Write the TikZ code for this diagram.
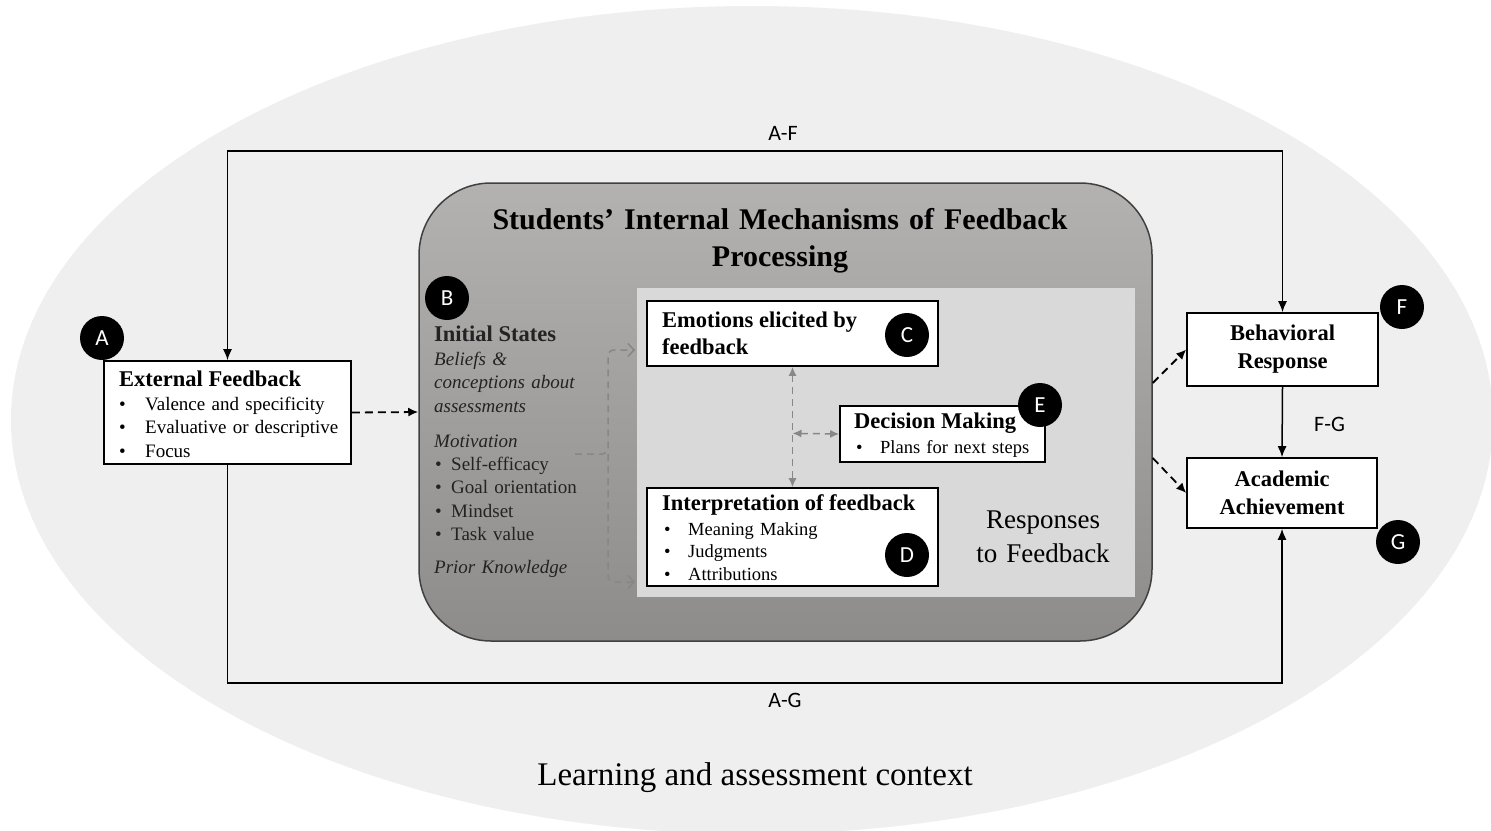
\documentclass[tikz,border=0pt]{standalone}
\usepackage{fontspec}
\setmainfont{Liberation Serif}
\newfontfamily\calib{Carlito}
\usetikzlibrary{arrows.meta,calc}
\definecolor{ellgray}{RGB}{239,239,239}
\definecolor{mechtop}{RGB}{180,177,177}
\definecolor{mechmid}{RGB}{167,164,164}
\definecolor{mechbot}{RGB}{142,139,139}
\definecolor{innergray}{RGB}{217,217,217}
\definecolor{dashgray}{RGB}{135,135,135}
\definecolor{txtdark}{RGB}{35,35,35}
\newcommand{\hdfont}{\bfseries\fontsize{22.5}{28}\selectfont}
\newcommand{\blfont}{\fontsize{19}{23.5}\selectfont}
\newcommand{\bitem}[2]{\makebox[#1][l]{\textbullet}#2}
\begin{document}
\begin{tikzpicture}[x=1pt,y=-1pt,
  box/.style={draw=black, line width=1.6pt, fill=white, rectangle, inner sep=0pt},
  letter/.style={circle, fill=black, text=white, minimum size=44pt, inner sep=0pt, font=\calib\fontsize{23}{23}\selectfont},
  txt/.style={inner sep=0pt, anchor=base west, text=black},
  hd/.style={txt, font=\hdfont},
  lst/.style={txt, text width=330pt, align=left, font=\blfont},
  lbl/.style={inner sep=0pt, anchor=base, font=\calib\fontsize{22}{22}\selectfont},
  conn/.style={draw=black, line width=1.5pt},
  tip/.style={-{Latex[length=11pt,width=9pt]}},
  dconn/.style={conn, line width=1.8pt, dash pattern=on 8pt off 5pt, -{Latex[length=10pt,width=9pt]}},
  gconn/.style={draw=dashgray, line width=1.5pt, dash pattern=on 7pt off 5pt},
  gtip/.style={{Latex[length=9pt,width=8pt]}-{Latex[length=9pt,width=8pt]}},
  barb/.style={-{Straight Barb[length=6pt,width=13pt]}}
]
\useasboundingbox (0,0) rectangle (1491,830);
% context ellipse
\fill[ellgray] (752,420) ellipse [x radius=741pt, y radius=414pt];
\node[lbl, anchor=base, font=\fontsize{33}{33}\selectfont] (ctx) at (755,785) {Learning and assessment context};

% big rounded box
\node[rectangle, rounded corners=72pt, minimum width=733pt, minimum height=458pt, inner sep=0pt,
      top color=mechtop, middle color=mechmid, bottom color=mechbot, draw=black!75, line width=1.5pt] (mech) at (785.5,412) {};
\node[txt, anchor=base, text width=700pt, align=center, font=\bfseries\fontsize{30}{37}\selectfont] (title) at (780,229)
  {Students' Internal Mechanisms of Feedback\\Processing};

% inner responses panel
\node[rectangle, fill=innergray, minimum width=498pt, minimum height=309pt, inner sep=0pt] (resp) at (886,442.5) {};
\node[txt, anchor=base, text width=200pt, align=center, font=\fontsize{27}{34}\selectfont] (respT) at (1043,528)
  {Responses\\to Feedback};

% initial states
\node[letter] (B) at (447,298) {B};
\node[hd, text=txtdark] (initH) at (434,341) {Initial States};
\node[lst, text=txtdark, font=\blfont\itshape] (initI) at (434,365) {Beliefs \&\\conceptions about\\assessments};
\node[lst, text=txtdark, font=\blfont\itshape] (motH) at (434,447) {Motivation};
\node[lst, text=txtdark] (motL) at (435,470) {\bitem{16pt}{Self-efficacy}\\\bitem{16pt}{Goal orientation}\\\bitem{16pt}{Mindset}\\\bitem{16pt}{Task value}};
\node[lst, text=txtdark, font=\blfont\itshape] (prior) at (434,573) {Prior Knowledge};

% gray bracket
\coordinate (mot) at (575,454);
\coordinate (brk) at (608,454);
\coordinate (tipTop) at (635,350);
\coordinate (tipBot) at (635,582);
\draw[gconn, barb, rounded corners=6pt] (mot) -- (brk) -- (brk |- tipTop) -- (tipTop);
\draw[gconn, barb, rounded corners=6pt] (brk) -- (brk |- tipBot) -- (tipBot);

% external feedback
\node[box, minimum width=247pt, minimum height=103pt] (ext) at (227.5,412.5) {};
\node[hd] (extH) at (119,386) {External Feedback};
\node[lst] (extL) at (119,410) {\bitem{26pt}{Valence and specificity}\\\bitem{26pt}{Evaluative or descriptive}\\\bitem{26pt}{Focus}};
\node[letter] (A) at (102,338) {A};

% C
\node[box, minimum width=291pt, minimum height=65pt] (C) at (792.5,333.5) {};
\node[hd] (CH) at (662,327) {Emotions elicited by};
\node[hd] (CH2) at (662,354) {feedback};
\node[letter] (Cl) at (907,335) {C};

% D
\node[box, minimum width=291pt, minimum height=98pt] (D) at (792.5,537) {};
\node[hd] (DH) at (662,510) {Interpretation of feedback};
\node[lst, font=\fontsize{18.5}{22.5}\selectfont] (DL) at (664,535) {\bitem{24pt}{Meaning Making}\\\bitem{24pt}{Judgments}\\\bitem{24pt}{Attributions}};
\node[letter] (Dl) at (907,555) {D};

% E
\node[box, minimum width=205pt, minimum height=56pt] (E) at (942.5,434) {};
\node[hd] (EH) at (854,428) {Decision Making};
\node[lst, font=\fontsize{18.5}{22.5}\selectfont] (EL) at (856,453) {\bitem{24pt}{Plans for next steps}};
\node[letter] (El) at (1040,405) {E};

% gray connectors C-D-E
\draw[gconn, gtip] (C.south) -- (D.north);
\coordinate (cdmid) at ($(C.south)!0.553!(D.north)$);
\draw[gconn, gtip] (cdmid) -- (E.west);

% right boxes
\node[box, minimum width=191pt, minimum height=73pt, align=center, font=\hdfont] (F) at (1282.5,349.5) {Behavioral\\Response};
\node[letter] (Fl) at (1402,307) {F};
\node[box, minimum width=190pt, minimum height=70pt, align=center, font=\hdfont] (G) at (1282,493) {Academic\\Achievement};
\node[letter] (Gl) at (1398,542) {G};

% connectors
\draw[dconn] (ext.east) -- (mech.west);
\draw[dconn] ([yshift=29pt]mech.east) -- (F.west);
\draw[dconn] ([yshift=-46pt]mech.east) -- (G.west);
\draw[conn, tip] (F.south) -- (G.north);
\node[lbl, anchor=base west] (FG) at (1314,431) {F-G};

\coordinate (afL) at (ext.north |- 0,151);
\coordinate (afR) at (F.north |- 0,151);
\draw[conn, {Latex[length=11pt,width=9pt]}-{Latex[length=11pt,width=9pt]}] (ext.north) -- (afL) -- (afR) -- (F.north);
\node[lbl] (AF) at (783,140) {A-F};

\coordinate (agL) at (ext.south |- 0,683);
\coordinate (agR) at (G.south |- 0,683);
\draw[conn, tip] (ext.south) -- (agL) -- (agR) -- (G.south);
\node[lbl] (AG) at (785,707) {A-G};
\end{tikzpicture}
\end{document}
